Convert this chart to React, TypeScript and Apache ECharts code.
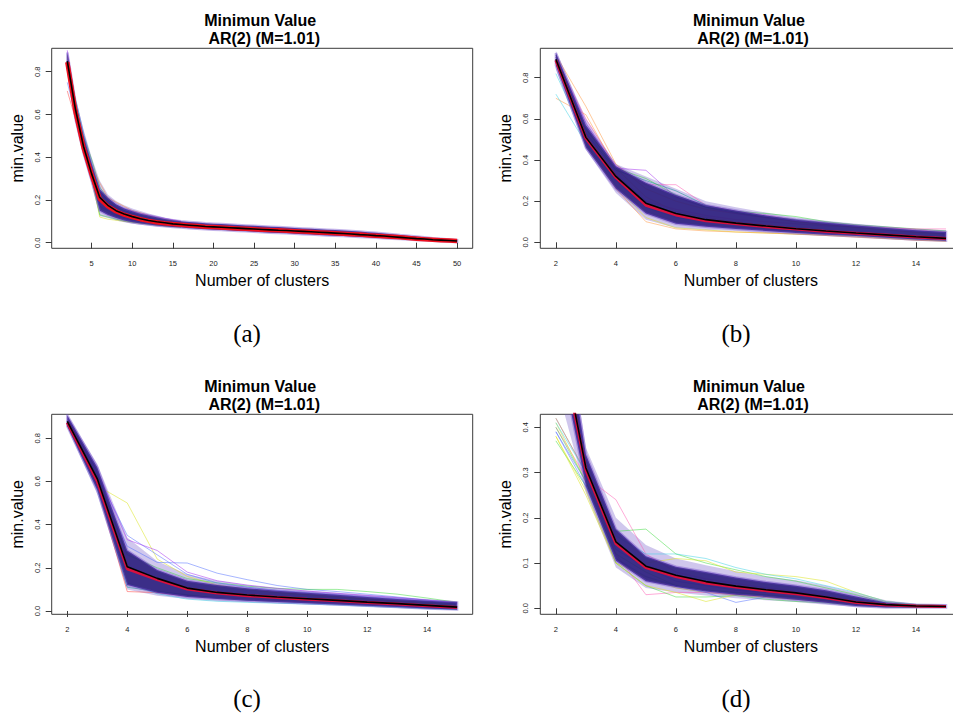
import React, { useEffect, useRef } from "react";
import * as echarts from "echarts";

// ---------------- data ----------------
const clustersA = [2, 3, 4, 5, 6, 7, 8, 9, 10, 11, 12, 13, 14, 15, 16, 17, 18, 19, 20, 21, 22, 23, 24, 25, 26, 27, 28, 29, 30, 31, 32, 33, 34, 35, 36, 37, 38, 39, 40, 41, 42, 43, 44, 45, 46, 47, 48, 49, 50];
const clusters = [2, 3, 4, 5, 6, 7, 8, 9, 10, 11, 12, 13, 14, 15];

const xTicksA = [5, 10, 15, 20, 25, 30, 35, 40, 45, 50];
const xTicks = [2, 4, 6, 8, 10, 12, 14];
const yTicks = [0, 0.2, 0.4, 0.6, 0.8];
const yTicksD = [0, 0.1, 0.2, 0.3, 0.4];

// Panel (a)
const meanA = [0.850, 0.625, 0.450, 0.322, 0.212, 0.175, 0.150, 0.134, 0.122, 0.112, 0.104, 0.098, 0.093, 0.088, 0.085, 0.082, 0.079, 0.076, 0.074, 0.072, 0.070, 0.068, 0.066, 0.064, 0.062, 0.060, 0.058, 0.057, 0.055, 0.053, 0.051, 0.049, 0.047, 0.045, 0.043, 0.041, 0.038, 0.036, 0.033, 0.031, 0.028, 0.025, 0.022, 0.019, 0.017, 0.014, 0.012, 0.010, 0.008];
const redA = [0.845, 0.615, 0.445, 0.318, 0.205, 0.170, 0.147, 0.131, 0.120, 0.110, 0.102, 0.096, 0.091, 0.087, 0.084, 0.081, 0.078, 0.075, 0.073, 0.071, 0.069, 0.067, 0.065, 0.063, 0.061, 0.059, 0.058, 0.056, 0.054, 0.052, 0.050, 0.048, 0.046, 0.044, 0.042, 0.040, 0.038, 0.035, 0.033, 0.030, 0.028, 0.025, 0.022, 0.019, 0.016, 0.014, 0.012, 0.010, 0.008];
const lowA = [0.830, 0.580, 0.420, 0.290, 0.150, 0.130, 0.115, 0.104, 0.096, 0.090, 0.085, 0.081, 0.077, 0.074, 0.071, 0.068, 0.065, 0.063, 0.061, 0.059, 0.057, 0.055, 0.053, 0.051, 0.049, 0.047, 0.045, 0.044, 0.042, 0.040, 0.038, 0.036, 0.034, 0.032, 0.031, 0.029, 0.027, 0.025, 0.023, 0.021, 0.019, 0.017, 0.015, 0.013, 0.011, 0.009, 0.007, 0.005, 0.004];
const highA = [0.890, 0.660, 0.500, 0.370, 0.250, 0.210, 0.180, 0.160, 0.147, 0.136, 0.127, 0.119, 0.111, 0.105, 0.100, 0.097, 0.094, 0.091, 0.089, 0.087, 0.085, 0.083, 0.081, 0.079, 0.077, 0.075, 0.073, 0.071, 0.069, 0.067, 0.065, 0.063, 0.061, 0.059, 0.057, 0.055, 0.052, 0.049, 0.046, 0.043, 0.040, 0.036, 0.033, 0.029, 0.025, 0.021, 0.018, 0.015, 0.012];
const outLowA = [0.800, 0.565, 0.405, 0.275, 0.125, 0.115, 0.104, 0.096, 0.089, 0.084, 0.080, 0.076, 0.073, 0.071, 0.071];
const outHighA = [0.900, 0.680, 0.530, 0.400, 0.290, 0.225, 0.195, 0.175, 0.160, 0.148, 0.137, 0.127, 0.118, 0.109, 0.100];
const simA1 = [0.71, 0.58, 0.44, 0.31, 0.20, 0.165, 0.14, 0.125, 0.115, 0.106, 0.099, 0.093, 0.088, 0.084, 0.080];
const simA2 = [0.75, 0.60, 0.45, 0.33, 0.17, 0.15, 0.13, 0.118, 0.108, 0.100, 0.094, 0.088, 0.083, 0.079, 0.076];
const simA3 = [0.88, 0.66, 0.50, 0.39, 0.26, 0.205, 0.175, 0.158, 0.145, 0.133, 0.124, 0.116, 0.108, 0.102, 0.097];
const simA4 = [0.86, 0.67, 0.51, 0.37, 0.25, 0.19, 0.165, 0.15, 0.14, 0.13, 0.12, 0.113, 0.106, 0.10, 0.095];
const simA5 = [0.87, 0.64, 0.48, 0.36, 0.28, 0.21, 0.19, 0.17, 0.15, 0.14, 0.128, 0.118, 0.11, 0.104, 0.099];
const simA6 = [0.84, 0.60, 0.43, 0.30, 0.12, 0.11, 0.105, 0.10, 0.095, 0.09, 0.086, 0.082, 0.078, 0.075, 0.072];
const simA7 = [0.85, 0.61, 0.44, 0.31, 0.13, 0.12, 0.11, 0.102, 0.097, 0.092, 0.087, 0.083, 0.079, 0.076, 0.073];
const simA8 = [0.90, 0.65, 0.47, 0.35, 0.24, 0.20, 0.175, 0.16, 0.148, 0.137, 0.128, 0.12, 0.113, 0.107, 0.101];

// Panel (b)
const meanB = [0.890, 0.510, 0.320, 0.190, 0.140, 0.110, 0.093, 0.079, 0.066, 0.055, 0.045, 0.036, 0.027, 0.019];
const redB = [0.885, 0.505, 0.315, 0.180, 0.133, 0.105, 0.090, 0.076, 0.064, 0.053, 0.044, 0.035, 0.026, 0.018];
const lowB = [0.860, 0.460, 0.260, 0.140, 0.090, 0.075, 0.065, 0.055, 0.045, 0.037, 0.030, 0.022, 0.013, 0.008];
const highB = [0.920, 0.570, 0.370, 0.290, 0.230, 0.180, 0.155, 0.130, 0.110, 0.095, 0.082, 0.070, 0.058, 0.050];
const outLowB = [0.840, 0.450, 0.240, 0.110, 0.070, 0.060, 0.055, 0.045, 0.037, 0.030, 0.022, 0.015, 0.008, 0.005];
const outHighB = [0.930, 0.600, 0.380, 0.320, 0.260, 0.200, 0.170, 0.145, 0.122, 0.105, 0.090, 0.078, 0.066, 0.058];
const simB1 = [0.70, 0.62, 0.36, 0.22, 0.15, 0.12, 0.10, 0.085, 0.07, 0.06, 0.05, 0.04, 0.032, 0.025];
const simB2 = [0.72, 0.48, 0.30, 0.17, 0.12, 0.10, 0.085, 0.072, 0.06, 0.05, 0.042, 0.034, 0.025, 0.018];
const simB3 = [0.82, 0.50, 0.33, 0.20, 0.13, 0.105, 0.09, 0.076, 0.064, 0.054, 0.045, 0.037, 0.028, 0.02];
const simB4 = [0.91, 0.66, 0.38, 0.26, 0.20, 0.16, 0.14, 0.12, 0.10, 0.085, 0.072, 0.06, 0.048, 0.04];
const simB5 = [0.90, 0.58, 0.36, 0.35, 0.22, 0.17, 0.14, 0.12, 0.105, 0.09, 0.078, 0.066, 0.054, 0.045];
const simB6 = [0.89, 0.60, 0.37, 0.28, 0.28, 0.18, 0.15, 0.13, 0.11, 0.095, 0.082, 0.07, 0.06, 0.05];
const simB7 = [0.90, 0.55, 0.36, 0.31, 0.23, 0.17, 0.15, 0.14, 0.125, 0.10, 0.085, 0.075, 0.065, 0.055];
const simB8 = [0.88, 0.47, 0.27, 0.12, 0.07, 0.06, 0.05, 0.045, 0.04, 0.035, 0.03, 0.02, 0.012, 0.006];
const simB9 = [0.87, 0.48, 0.26, 0.10, 0.065, 0.055, 0.05, 0.045, 0.04, 0.033, 0.025, 0.018, 0.01, 0.005];
const simB10 = [0.90, 0.52, 0.33, 0.20, 0.16, 0.13, 0.11, 0.10, 0.09, 0.08, 0.075, 0.07, 0.065, 0.065];
const simB11 = [0.91, 0.53, 0.35, 0.30, 0.25, 0.18, 0.145, 0.125, 0.11, 0.095, 0.08, 0.068, 0.055, 0.048];

// Panel (c)
const meanC = [0.878, 0.612, 0.205, 0.151, 0.106, 0.086, 0.074, 0.065, 0.057, 0.049, 0.041, 0.034, 0.026, 0.018];
const redC = [0.872, 0.600, 0.195, 0.145, 0.102, 0.083, 0.071, 0.062, 0.054, 0.047, 0.039, 0.032, 0.024, 0.016];
const lowC = [0.855, 0.560, 0.120, 0.085, 0.065, 0.055, 0.048, 0.042, 0.036, 0.030, 0.024, 0.018, 0.012, 0.007];
const highC = [0.905, 0.665, 0.280, 0.190, 0.140, 0.120, 0.105, 0.094, 0.085, 0.075, 0.065, 0.056, 0.048, 0.040];
const outLowC = [0.850, 0.540, 0.100, 0.070, 0.055, 0.045, 0.040, 0.035, 0.030, 0.025, 0.020, 0.014, 0.009, 0.005];
const outHighC = [0.910, 0.680, 0.340, 0.230, 0.170, 0.140, 0.120, 0.105, 0.095, 0.085, 0.075, 0.065, 0.055, 0.045];
const simC1 = [0.88, 0.58, 0.50, 0.24, 0.16, 0.12, 0.10, 0.085, 0.075, 0.065, 0.055, 0.045, 0.035, 0.025];
const simC2 = [0.87, 0.60, 0.30, 0.225, 0.222, 0.175, 0.145, 0.118, 0.10, 0.09, 0.078, 0.065, 0.05, 0.038];
const simC3 = [0.86, 0.57, 0.09, 0.085, 0.07, 0.06, 0.052, 0.046, 0.04, 0.034, 0.028, 0.022, 0.016, 0.01];
const simC4 = [0.88, 0.62, 0.26, 0.20, 0.15, 0.13, 0.115, 0.105, 0.10, 0.10, 0.09, 0.078, 0.06, 0.04];
const simC5 = [0.86, 0.56, 0.13, 0.08, 0.055, 0.045, 0.04, 0.036, 0.032, 0.028, 0.022, 0.016, 0.01, 0.006];
const simC6 = [0.87, 0.58, 0.11, 0.09, 0.075, 0.06, 0.05, 0.044, 0.038, 0.032, 0.026, 0.02, 0.014, 0.008];
const simC7 = [0.88, 0.63, 0.35, 0.26, 0.17, 0.13, 0.11, 0.095, 0.085, 0.075, 0.065, 0.056, 0.045, 0.035];
const simC8 = [0.89, 0.65, 0.33, 0.28, 0.18, 0.14, 0.12, 0.105, 0.092, 0.082, 0.072, 0.062, 0.05, 0.04];

// Panel (d)
const meanD = [0.650, 0.310, 0.147, 0.093, 0.073, 0.059, 0.049, 0.041, 0.034, 0.025, 0.014, 0.008, 0.005, 0.004];
const redD = [0.640, 0.305, 0.143, 0.090, 0.070, 0.056, 0.047, 0.039, 0.032, 0.023, 0.013, 0.007, 0.005, 0.004];
const lowD = [0.600, 0.270, 0.105, 0.060, 0.047, 0.037, 0.030, 0.025, 0.019, 0.012, 0.005, 0.002, 0.002, 0.002];
const highD = [0.750, 0.340, 0.175, 0.115, 0.092, 0.080, 0.068, 0.058, 0.050, 0.040, 0.026, 0.013, 0.008, 0.007];
const outLowD = [0.500, 0.255, 0.090, 0.045, 0.035, 0.028, 0.022, 0.018, 0.014, 0.008, 0.003, 0.001, 0.001, 0.001];
const outHighD = [0.800, 0.355, 0.200, 0.140, 0.110, 0.095, 0.082, 0.070, 0.062, 0.050, 0.034, 0.018, 0.010, 0.009];
const simD1 = [0.37, 0.27, 0.12, 0.08, 0.05, 0.04, 0.035, 0.03, 0.025, 0.018, 0.01, 0.005, 0.003, 0.003];
const simD2 = [0.38, 0.25, 0.10, 0.07, 0.045, 0.035, 0.03, 0.025, 0.02, 0.015, 0.008, 0.004, 0.003, 0.003];
const simD3 = [0.39, 0.28, 0.13, 0.09, 0.06, 0.05, 0.04, 0.035, 0.03, 0.022, 0.012, 0.006, 0.004, 0.003];
const simD4 = [0.40, 0.29, 0.24, 0.12, 0.08, 0.065, 0.055, 0.045, 0.038, 0.028, 0.015, 0.008, 0.005, 0.004];
const simD5 = [0.42, 0.30, 0.17, 0.175, 0.12, 0.10, 0.085, 0.07, 0.06, 0.045, 0.03, 0.012, 0.007, 0.005];
const simD6 = [0.41, 0.28, 0.14, 0.10, 0.11, 0.105, 0.08, 0.075, 0.07, 0.06, 0.035, 0.015, 0.008, 0.006];
const simD7 = [0.42, 0.30, 0.12, 0.03, 0.035, 0.035, 0.03, 0.025, 0.02, 0.015, 0.008, 0.004, 0.003, 0.002];
const simD8 = [0.40, 0.28, 0.10, 0.05, 0.025, 0.025, 0.028, 0.02, 0.015, 0.012, 0.006, 0.003, 0.002, 0.002];
const simD9 = [0.39, 0.27, 0.11, 0.07, 0.05, 0.035, 0.013, 0.025, 0.02, 0.015, 0.008, 0.004, 0.003, 0.003];
const simD10 = [0.41, 0.30, 0.16, 0.12, 0.12, 0.11, 0.09, 0.075, 0.065, 0.05, 0.035, 0.015, 0.008, 0.005];
const simD11 = [0.38, 0.26, 0.10, 0.05, 0.035, 0.015, 0.03, 0.025, 0.02, 0.015, 0.01, 0.005, 0.003, 0.003];

const titleLine1 = "Minimun Value";
const titleLine2 = "AR(2) (M=1.01)";
const xName = "Number of clusters";
const yName = "min.value";
const captions = ["(a)", "(b)", "(c)", "(d)"];

// ---------------- styling / layout ----------------
const FONT = "'Liberation Sans', Arial, Helvetica, sans-serif";
const SERIF = "'Liberation Serif', 'DejaVu Serif', serif";
const BAND = "#2a1d7c";
const BAND_EDGE = "rgba(110,70,200,0.45)";
const OUTER = "rgba(110,80,200,0.32)";

const C_RED = "rgba(255,60,60,0.5)";
const C_ORA = "rgba(255,150,60,0.5)";
const C_YEL = "rgba(220,230,40,0.55)";
const C_GRN = "rgba(60,220,60,0.5)";
const C_CYA = "rgba(60,210,230,0.5)";
const C_BLU = "rgba(80,110,255,0.5)";
const C_PUR = "rgba(170,60,240,0.55)";
const C_PNK = "rgba(255,90,180,0.5)";
const C_TEA = "rgba(30,150,150,0.55)";

type Panel = {
  grid: { left: number; top: number; width: number; height: number };
  x: [number, number];
  y: [number, number];
  xt: number[];
  yt: number[];
  ks: number[];
  mean: number[];
  red: number[];
  lo: number[];
  hi: number[];
  olo: number[];
  ohi: number[];
  redW: number;
  sims: { v: number[]; c: string }[];
  caption: [number, number];
};

const panels: Panel[] = [
  {
    grid: { left: 51.7, top: 48.3, width: 421, height: 200 },
    x: [0.08, 51.92], y: [-0.0262, 0.9095], xt: xTicksA, yt: yTicks, ks: clustersA,
    mean: meanA, red: redA, lo: lowA, hi: highA, olo: outLowA, ohi: outHighA, redW: 4.5,
    sims: [
      { v: simA1, c: C_RED }, { v: simA2, c: C_BLU }, { v: simA3, c: C_GRN }, { v: simA4, c: C_CYA },
      { v: simA5, c: C_ORA }, { v: simA6, c: C_YEL }, { v: simA7, c: C_GRN }, { v: simA8, c: C_PUR },
    ],
    caption: [247, 333],
  },
  {
    grid: { left: 540.3, top: 48.3, width: 421.3, height: 200 },
    x: [1.48, 15.52], y: [-0.0292, 0.9429], xt: xTicks, yt: yTicks, ks: clusters,
    mean: meanB, red: redB, lo: lowB, hi: highB, olo: outLowB, ohi: outHighB, redW: 3,
    sims: [
      { v: simB1, c: C_ORA }, { v: simB2, c: C_CYA }, { v: simB3, c: C_CYA }, { v: simB4, c: C_ORA },
      { v: simB5, c: C_PUR }, { v: simB6, c: C_PNK }, { v: simB7, c: C_GRN }, { v: simB8, c: C_YEL },
      { v: simB9, c: C_ORA }, { v: simB10, c: C_PNK }, { v: simB11, c: C_TEA },
    ],
    caption: [736, 333],
  },
  {
    grid: { left: 51.7, top: 414.3, width: 421, height: 200 },
    x: [1.48, 15.52], y: [-0.0153, 0.9106], xt: xTicks, yt: yTicks, ks: clusters,
    mean: meanC, red: redC, lo: lowC, hi: highC, olo: outLowC, ohi: outHighC, redW: 3,
    sims: [
      { v: simC1, c: C_YEL }, { v: simC2, c: C_BLU }, { v: simC3, c: C_RED }, { v: simC4, c: C_GRN },
      { v: simC5, c: C_CYA }, { v: simC6, c: C_TEA }, { v: simC7, c: C_BLU }, { v: simC8, c: C_PUR },
    ],
    caption: [247, 698],
  },
  {
    grid: { left: 540.3, top: 414.3, width: 421.3, height: 200 },
    x: [1.48, 15.52], y: [-0.0133, 0.4287], xt: xTicks, yt: yTicksD, ks: clusters,
    mean: meanD, red: redD, lo: lowD, hi: highD, olo: outLowD, ohi: outHighD, redW: 3,
    sims: [
      { v: simD1, c: C_GRN }, { v: simD2, c: C_YEL }, { v: simD3, c: C_BLU }, { v: simD4, c: C_PNK },
      { v: simD5, c: C_GRN }, { v: simD6, c: C_YEL }, { v: simD7, c: C_PNK }, { v: simD8, c: C_GRN },
      { v: simD9, c: C_BLU }, { v: simD10, c: C_CYA }, { v: simD11, c: C_YEL },
    ],
    caption: [736, 698],
  },
];

function bandSeries(i: number, ks: number[], lo: number[], hi: number[], z: number, style: any) {
  return {
    type: "custom",
    xAxisIndex: i,
    yAxisIndex: i,
    silent: true,
    z,
    data: [[ks[0], lo[0]]],
    renderItem: (params: any, api: any) => {
      const poly: number[][] = [];
      for (let j = 0; j < lo.length; j++) poly.push(api.coord([ks[j], lo[j]]));
      for (let j = hi.length - 1; j >= 0; j--) poly.push(api.coord([ks[j], hi[j]]));
      const cs = params.coordSys;
      return {
        type: "polygon",
        shape: { points: poly },
        style,
        clipPath: { type: "rect", shape: { x: cs.x, y: cs.y, width: cs.width, height: cs.height } },
      };
    },
  };
}

function buildOption() {
  const grids: any[] = [];
  const xAxes: any[] = [];
  const yAxes: any[] = [];
  const series: any[] = [];
  const graphics: any[] = [];

  panels.forEach((p, i) => {
    grids.push({
      ...p.grid,
      show: true,
      borderColor: "#3a3a3a",
      borderWidth: 1,
      backgroundColor: "transparent",
      containLabel: false,
      outerBoundsMode: "none",
    });
    xAxes.push({
      gridIndex: i,
      type: "value",
      min: p.x[0],
      max: p.x[1],
      axisLine: { show: false },
      axisTick: { show: true, customValues: p.xt, length: 6, lineStyle: { color: "#3a3a3a", width: 1 } },
      axisLabel: {
        customValues: p.xt, fontSize: 7.5, lineHeight: 8, color: "#222", margin: 11, fontFamily: FONT,
        formatter: (v: number) => String(v),
      },
      splitLine: { show: false },
      name: xName,
      nameLocation: "middle",
      nameGap: 24,
      nameTextStyle: { fontSize: 16, lineHeight: 16, color: "#000", fontFamily: FONT },
    });
    yAxes.push({
      gridIndex: i,
      type: "value",
      min: p.y[0],
      max: p.y[1],
      axisLine: { show: false },
      axisTick: { show: true, customValues: p.yt, length: 6, lineStyle: { color: "#3a3a3a", width: 1 } },
      axisLabel: { show: false, customValues: p.yt },
      splitLine: { show: false },
      name: yName,
      nameLocation: "middle",
      nameGap: 26.5,
      nameTextStyle: { fontSize: 16, lineHeight: 16, color: "#000", fontFamily: FONT },
    });

    const pts = (ys: number[]) => ys.map((y, j) => [p.ks[j], y]);
    const base = { type: "line", xAxisIndex: i, yAxisIndex: i, symbol: "none", showSymbol: false, silent: true, clip: true };

    p.sims.forEach((s) => {
      series.push({ ...base, data: pts(s.v), z: 2, lineStyle: { color: s.c, width: 1 } });
    });
    series.push(bandSeries(i, p.ks, p.olo, p.ohi, 2, { fill: OUTER }));
    series.push(bandSeries(i, p.ks, p.lo, p.hi, 3, { fill: BAND, opacity: 0.9, stroke: BAND_EDGE, lineWidth: 2.5 }));
    series.push({ ...base, data: pts(p.red), z: 4, lineStyle: { color: i === 0 ? "#f0101e" : "#d8103e", width: p.redW } });
    series.push({ ...base, data: pts(p.mean), z: 5, lineStyle: { color: "#000", width: 1.6 } });

    // rotated y tick labels (R style), positioned through the y scale
    const yt = p.yt;
    const xMin = p.x[0];
    series.push({
      type: "custom",
      xAxisIndex: i,
      yAxisIndex: i,
      silent: true,
      z: 6,
      clip: false,
      data: [[xMin, yt[0]]],
      renderItem: (params: any, api: any) => {
        const cs = params.coordSys;
        return {
          type: "group",
          children: yt.map((v) => {
            const c = api.coord([xMin, v]);
            return {
              type: "text",
              x: cs.x - 10.5,
              y: c[1],
              rotation: Math.PI / 2,
              style: {
                text: v.toFixed(1),
                fontSize: 7.5,
                fontFamily: FONT,
                fill: "#222",
                align: "center",
                verticalAlign: "bottom",
                textAlign: "center",
                textVerticalAlign: "bottom",
              },
            };
          }),
        };
      },
    });

    const cx = p.grid.left + p.grid.width / 2;
    const ty = p.grid.top - 28;
    graphics.push({
      type: "text", x: cx - 2, y: ty, silent: true,
      style: { text: titleLine1, font: `bold 16px ${FONT}`, fill: "#000", textAlign: "center", textVerticalAlign: "middle" },
    });
    graphics.push({
      type: "text", x: cx + 2, y: ty + 18.3, silent: true,
      style: { text: titleLine2, font: `bold 16px ${FONT}`, fill: "#000", textAlign: "center", textVerticalAlign: "middle" },
    });
    graphics.push({
      type: "text", x: p.caption[0], y: p.caption[1], silent: true,
      style: { text: captions[i], font: `25px ${SERIF}`, fill: "#000", textAlign: "center", textVerticalAlign: "middle" },
    });
  });

  return {
    animation: false,
    backgroundColor: "#fff",
    grid: grids,
    xAxis: xAxes,
    yAxis: yAxes,
    series,
    graphic: graphics,
  };
}

export default function App() {
  const ref = useRef<HTMLDivElement>(null);
  useEffect(() => {
    if (!ref.current) return;
    const chart = echarts.init(ref.current, undefined, { renderer: "svg" });
    chart.setOption(buildOption() as any);
    return () => chart.dispose();
  }, []);
  return (
    <div
      ref={ref}
      style={{ position: "absolute", left: 0, top: 0, width: 953, height: 713, background: "#fff" }}
    />
  );
}
